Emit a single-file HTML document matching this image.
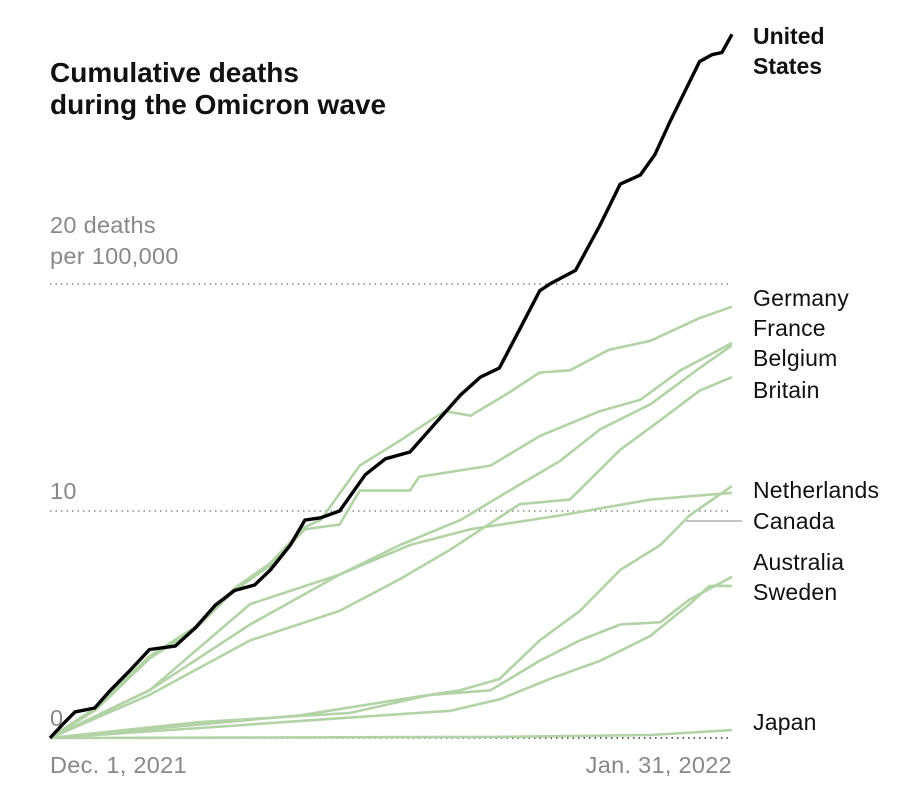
<!DOCTYPE html>
<html><head><meta charset="utf-8"><style>
body{margin:0;background:#fff;font-family:"Liberation Sans",sans-serif}
svg text{font-family:"Liberation Sans",sans-serif}
</style></head><body>
<svg width="912" height="807" id="c">
<text x="50" y="82" font-size="28" font-weight="bold" fill="#111">Cumulative deaths</text>
<text x="50" y="114" font-size="28" font-weight="bold" fill="#111">during the Omicron wave</text>
</svg>
<script>
const xTickLabels=["Dec. 1, 2021","Jan. 31, 2022"];
const yTicks=[0,10,20];
const usDays=[0,1.07,2.24,4,5.4,7.2,8.9,11.2,13,14.8,16.5,18.3,19.7,21.5,22.8,24.2,25.9,28.2,30,32.2,34,36.7,38.5,40.2,42,43.8,44.7,47,49.2,51,52.8,54.1,55.5,56.8,58.1,59.2,60.1,61];
const usVals=[0,0.57,1.15,1.32,2.1,3,3.9,4.05,4.85,5.86,6.5,6.74,7.4,8.5,9.6,9.7,10,11.6,12.3,12.6,13.6,15.1,15.9,16.3,18,19.7,20,20.6,22.6,24.4,24.8,25.7,27.2,28.5,29.8,30.1,30.2,31];
const gerDays=[0,4,8.9,13,16.5,19.7,22.8,24.2,27.7,31.3,35.3,37.6,41,43.8,46.5,50,53.7,58.1,61];
const gerVals=[0,1.3,3.6,4.9,6.6,7.7,9.3,9.6,12,13.1,14.4,14.2,15.2,16.1,16.2,17.1,17.5,18.5,19];
const fraDays=[0,4,8.9,13,16.5,19.7,22.8,25.9,27.7,32.2,33,39.4,43.8,49.2,52.8,56.4,61];
const fraVals=[0,1.2,3.5,4.8,6.5,7.6,9.2,9.4,10.9,10.9,11.5,12,13.3,14.4,14.9,16.2,17.4];
const belDays=[0,8.9,17.9,25.9,31.3,36.7,41.1,45.6,49.2,53.7,58.1,61];
const belVals=[0,2.1,5.9,7.2,8.5,9.6,10.9,12.2,13.6,14.7,16.3,17.3];
const briDays=[0,8.9,17.9,25.9,31.3,35.8,42,46.5,51,54.6,58.1,61];
const briVals=[0,1.9,4.3,5.6,7,8.3,10.3,10.5,12.7,14,15.3,15.9];
const nedDays=[0,8.9,17.9,25.9,32.2,37.6,45.6,53.7,61];
const nedVals=[0,2.1,5,7.2,8.5,9.2,9.8,10.5,10.8];
const canDays=[0,13.4,22.4,31.3,36.7,40.2,43.8,47.4,51,54.6,57.2,61];
const canVals=[0,0.6,1,1.7,2.1,2.6,4.3,5.6,7.4,8.5,9.8,11.1];
const ausDays=[0,13.4,26.8,34,39.4,43.8,47.4,51,54.6,57.2,61];
const ausVals=[0,0.7,1.1,1.9,2.1,3.4,4.3,5,5.1,6.1,7.1];
const sweDays=[0,13.4,26.8,35.8,40.2,44.7,49.2,53.7,57.2,59,61];
const sweVals=[0,0.44,0.9,1.2,1.7,2.6,3.4,4.5,5.9,6.7,6.7];
const jpnDays=[0,40.2,53.7,61];
const jpnVals=[0,0.05,0.13,0.35];

const NS="http://www.w3.org/2000/svg",svg=document.getElementById('c');
const X=d=>50+d*(682/61), Y=v=>738-v*22.7;
function mk(t,a){const e=document.createElementNS(NS,t);for(const k in a)e.setAttribute(k,a[k]);svg.appendChild(e);return e;}
yTicks.forEach(v=>{
  const l=mk('line',{x1:50,x2:732,y1:Y(v),y2:Y(v),stroke:v==0?'#333':'#888','stroke-dasharray':'1.5 4','stroke-width':1.5});
  
  
});
const G={'font-size':23.5,fill:'#888','letter-spacing':0.3};
[[0,'0'],[10,'10']].forEach(([v,s])=>{const t=mk('text',Object.assign({x:50,y:Y(v)-12},G));t.textContent=s;
  
  });
let t=mk('text',Object.assign({x:50,y:233},G));t.textContent='20 deaths';


t=mk('text',Object.assign({x:50,y:264},G));t.textContent='per 100,000';


t=mk('text',Object.assign({x:50,y:773},G));t.textContent=xTickLabels[0];


t=mk('text',Object.assign({x:732,y:773,'text-anchor':'end'},G));t.textContent=xTickLabels[1];


const series=[['germany',gerDays,gerVals],['france',fraDays,fraVals],['belgium',belDays,belVals],['britain',briDays,briVals],['netherlands',nedDays,nedVals],['canada',canDays,canVals],['australia',ausDays,ausVals],['sweden',sweDays,sweVals],['japan',jpnDays,jpnVals]];
function line(d,v,col,w,name){const p=mk('path',{d:d.map((x,i)=>(i?'L':'M')+X(x).toFixed(1)+','+Y(v[i]).toFixed(1)).join(''),fill:'none',stroke:col,'stroke-width':w,'stroke-linejoin':'round'});
  
  }
series.forEach(s=>line(s[1],s[2],'#b3d3a6',2.6,'line-'+s[0]));
line(usDays,usVals,'#000',3.4,'line-united-states');
const cl=mk('line',{x1:686,x2:742,y1:521,y2:521,stroke:'#888','stroke-width':1});


const labels=[['United',44,1],['States',74,1],['Germany',306],['France',336],['Belgium',366],['Britain',398],['Netherlands',498],['Canada',529],['Australia',570],['Sweden',600],['Japan',730]];
labels.forEach(l=>{const e=mk('text',{x:753,y:l[1],'font-size':23,fill:'#111','font-weight':l[2]?'bold':'normal','letter-spacing':l[2]?0:0.2});e.textContent=l[0];
  
  });
</script>
</body></html>
